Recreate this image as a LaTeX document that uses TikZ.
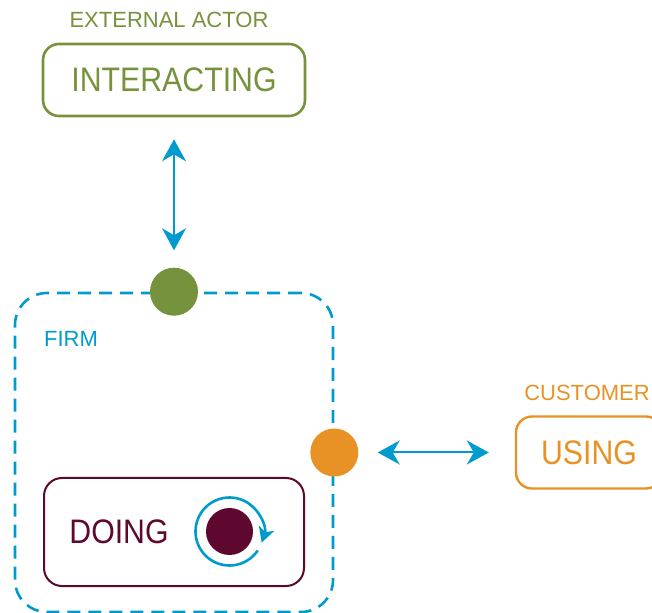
\documentclass[tikz,border=0pt]{standalone}
\usepackage{fontspec}
\setmainfont{Liberation Sans}
\newfontfamily\statefont{Liberation Sans}[FakeStretch=0.89]
\usepackage{xcolor}
\usepackage{tikz}
\usetikzlibrary{arrows.meta}

\definecolor{actgreen}{RGB}{118,146,60}
\definecolor{firmblue}{RGB}{0,155,206}
\definecolor{custorange}{RGB}{232,146,38}
\definecolor{doingred}{RGB}{94,8,48}

\begin{document}
\begin{tikzpicture}[x=0.5pt, y=-0.5pt,
                big/.style={font=\statefont\fontsize{17pt}{20pt}\selectfont, inner sep=0pt},
                small/.style={font=\fontsize{11pt}{13pt}\selectfont, inner sep=0pt},
                statebox/.style={draw, rectangle, rounded corners=8pt, minimum width=131pt, minimum height=36pt, inner sep=0pt},
                dot/.style={circle, inner sep=0pt, minimum size=24pt},
                link/.style={{Stealth[length=11pt, width=12pt, inset=3.5pt]}-{Stealth[length=11pt, width=12pt, inset=3.5pt]}, line width=1pt, firmblue}]
                \clip (0, 0) rectangle (652, 613);

                % Actors
                \node[small, actgreen] (extlabel) at (169, 20) {EXTERNAL ACTOR};
                \node[statebox, big, draw=actgreen, line width=1.3pt, text=actgreen] (interact) at (174, 80) {INTERACTING};

                \node[small, custorange] (custlabel) at (587, 393) {CUSTOMER};
                \node[statebox, big, draw=custorange, line width=1.2pt, text=custorange, minimum width=73pt] (using) at (589, 452.5) {USING};

                % Firm
                \node[draw=firmblue, line width=1.3pt, dash pattern=on 6.5pt off 4pt, rounded corners=16pt, minimum width=159pt, minimum height=159.5pt] (firm) at (174, 452.5) {};
                \node[small, firmblue] (firmlabel) at (71, 339) {FIRM};

                \node[statebox, draw=doingred, line width=1pt, rounded corners=9pt, minimum width=130pt, minimum height=54pt] (doingbox) at (174, 532) {};
                \node[big, doingred] (doing) at (119, 532) {DOING};
                \node[dot, fill=doingred, minimum size=23.5pt] (cycle) at (229.5, 531.5) {};

                % Interfaces
                \node[dot, fill=actgreen] (gdot) at (firm.north) {};
                \node[dot, fill=custorange] (odot) at (firm.east) {};

                % Connections
                \draw[link, shorten <=11pt, shorten >=8.5pt] (interact) -- (gdot);
                \draw[link, shorten <=9.5pt, shorten >=13pt] (odot) -- (using);

                \draw[-{Stealth[length=7.5pt, width=8pt, inset=2pt]}, line width=1.3pt, firmblue] (cycle.center) ++(-34:17pt) arc[start angle=-34, end angle=-379, radius=17pt];
            \end{tikzpicture}
\end{document}
